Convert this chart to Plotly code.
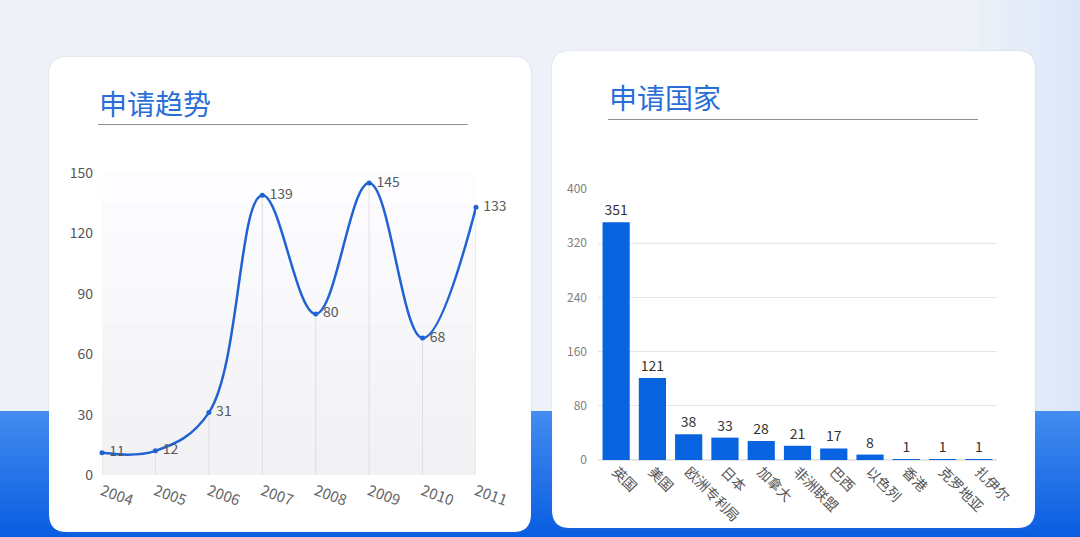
import plotly.graph_objects as go

# data
years = ['2004', '2005', '2006', '2007', '2008', '2009', '2010', '2011']
apps = [11, 12, 31, 139, 80, 145, 68, 133]

countries = ['英国', '美国', '欧洲专利局', '日本', '加拿大', '非洲联盟', '巴西', '以色列', '香港', '克罗地亚', '扎伊尔']
counts = [351, 121, 38, 33, 28, 21, 17, 8, 1, 1, 1]

W, H = 1080, 537
FONT = 'Noto Sans CJK SC'
BLUE = '#1f62d2'


def px(x):
    return x / W


def py(y):
    return 1 - y / H


def rounded(x0, y0, x1, y1, r):
    # rounded rectangle path in paper coords, input in pixels (y from top)
    rx, ry = r / W, r / H
    a, b, c, d = px(x0), py(y1), px(x1), py(y0)
    return (f'M{a+rx},{b} L{c-rx},{b} Q{c},{b} {c},{b+ry} L{c},{d-ry} Q{c},{d} {c-rx},{d} '
            f'L{a+rx},{d} Q{a},{d} {a},{d-ry} L{a},{b+ry} Q{a},{b} {a+rx},{b} Z')


shapes = []
# right side bluish tint of the background (overlapping strips, no seams)
for i in range(12):
    t = i / 11
    shapes.append(dict(type='rect', xref='paper', yref='paper', layer='below', line_width=0,
                       x0=px(960 + i * 10), x1=1, y0=py(412), y1=1,
                       fillcolor=f'rgb({int(238 - 18 * t)},{int(241 - 9 * t)},{int(247 + 3 * t)})'))
# blue band gradient
n = 21
for i in range(n):
    t = i / (n - 1)
    r = int(66 + (8 - 66) * t)
    g = int(139 + (92 - 139) * t)
    b = int(240 + (224 - 240) * t)
    shapes.append(dict(type='rect', xref='paper', yref='paper', layer='below', line_width=0,
                       x0=0, x1=1, y0=0, y1=py(411 + i * 6.3),
                       fillcolor=f'rgb({r},{g},{b})'))
# cards (soft shadow + white)
for (x0, y0, x1, y1) in [(49, 57, 531, 532), (552, 51, 1035, 528)]:
    shapes.append(dict(type='path', xref='paper', yref='paper', layer='below', line_width=0,
                       path=rounded(x0 - 1, y0 - 1, x1 + 1, y1 + 2, 19), fillcolor='rgba(120,140,180,0.08)'))
    shapes.append(dict(type='path', xref='paper', yref='paper', layer='below', line_width=0,
                       path=rounded(x0, y0, x1, y1, 18), fillcolor='white'))
# title underlines
shapes.append(dict(type='line', xref='paper', yref='paper', x0=px(98), x1=px(468), y0=py(124.5), y1=py(124.5),
                   line=dict(color='#8d929c', width=1)))
shapes.append(dict(type='line', xref='paper', yref='paper', x0=px(608), x1=px(978), y0=py(119.5), y1=py(119.5),
                   line=dict(color='#8d929c', width=1)))
# faint plot background of the trend chart
for i in range(10):
    t = i / 9
    c = int(253 - 11 * t)
    shapes.append(dict(type='rect', xref='x domain', yref='y', layer='below', line_width=0,
                       x0=0, x1=1, y0=0, y1=150 - i * 15,
                       fillcolor=f'rgb({c},{c},{min(c + 3, 255)})'))

fig = go.Figure()

# drop lines from each point
dx, dy = [], []
for yr, v in zip(years, apps):
    dx += [yr, yr, None]
    dy += [0, v, None]
fig.add_trace(go.Scatter(x=dx, y=dy, mode='lines', line=dict(color='#dedee3', width=1),
                         hoverinfo='skip', showlegend=False, xaxis='x', yaxis='y'))

fig.add_trace(go.Scatter(
    x=years, y=apps, mode='lines+markers+text', text=['\u00a0' + str(v) for v in apps],
    textposition='middle right', textfont=dict(family=FONT, size=14, color='#5a5a5a'),
    line=dict(color=BLUE, width=2.5, shape='spline', smoothing=1.1),
    marker=dict(size=5, color=BLUE), cliponaxis=False, showlegend=False,
    xaxis='x', yaxis='y'))

fig.add_trace(go.Bar(
    x=countries, y=counts, text=[str(v) for v in counts], textposition='outside',
    textfont=dict(family=FONT, size=14, color='#333333'),
    marker=dict(color='#0763e0', line_width=0), cliponaxis=False, showlegend=False,
    xaxis='x2', yaxis='y2'))

fig.update_layout(
    width=W, height=H, margin=dict(l=0, r=0, t=0, b=0, autoexpand=False),
    paper_bgcolor='#eef1f7', plot_bgcolor='rgba(0,0,0,0)',
    font=dict(family=FONT, color='#555555'),
    shapes=shapes, bargap=0.25,
    xaxis=dict(domain=[px(102), px(476)], type='category', range=[0, 7], showgrid=False,
               zeroline=False, showline=False, tickangle=20, ticks='', automargin=False,
               ticklabelstandoff=4, tickfont=dict(size=15, color='#666666'), anchor='y'),
    yaxis=dict(domain=[py(475), py(173)], range=[0, 150], tickvals=[0, 30, 60, 90, 120, 150],
               showgrid=False, zeroline=False, showline=False, ticks='', ticklabelstandoff=8,
               automargin=False, tickfont=dict(size=14, color='#555555'), anchor='x'),
    xaxis2=dict(domain=[px(598), px(997)], type='category', showgrid=False, zeroline=False,
                showline=False, tickangle=45, ticks='', automargin=False,
                tickfont=dict(size=14, color='#555555'), anchor='y2'),
    yaxis2=dict(domain=[py(460), py(189)], range=[0, 400], tickvals=[0, 80, 160, 240, 320, 400],
                showgrid=True, gridcolor='#e4e6ea', gridwidth=1, zeroline=True, zerolinecolor='#e4e6ea',
                showline=False, ticks='', ticklabelstandoff=10, automargin=False,
                tickfont=dict(size=12, color='#808080'), anchor='x2'),
    annotations=[
        dict(text='申请趋势', xref='paper', yref='paper', x=px(97), y=py(103), xanchor='left',
             yanchor='middle', showarrow=False, font=dict(family=FONT, size=28, color='#2a6ed8')),
        dict(text='申请国家', xref='paper', yref='paper', x=px(607), y=py(97), xanchor='left',
             yanchor='middle', showarrow=False, font=dict(family=FONT, size=28, color='#2a6ed8')),
    ],
)

# no page margin around the figure
js = ("document.documentElement.style.overflow='hidden';"
      "document.body.style.margin='0';document.body.style.overflow='hidden';")
fig.write_html("out.html", config={'displayModeBar': False}, post_script=js)
